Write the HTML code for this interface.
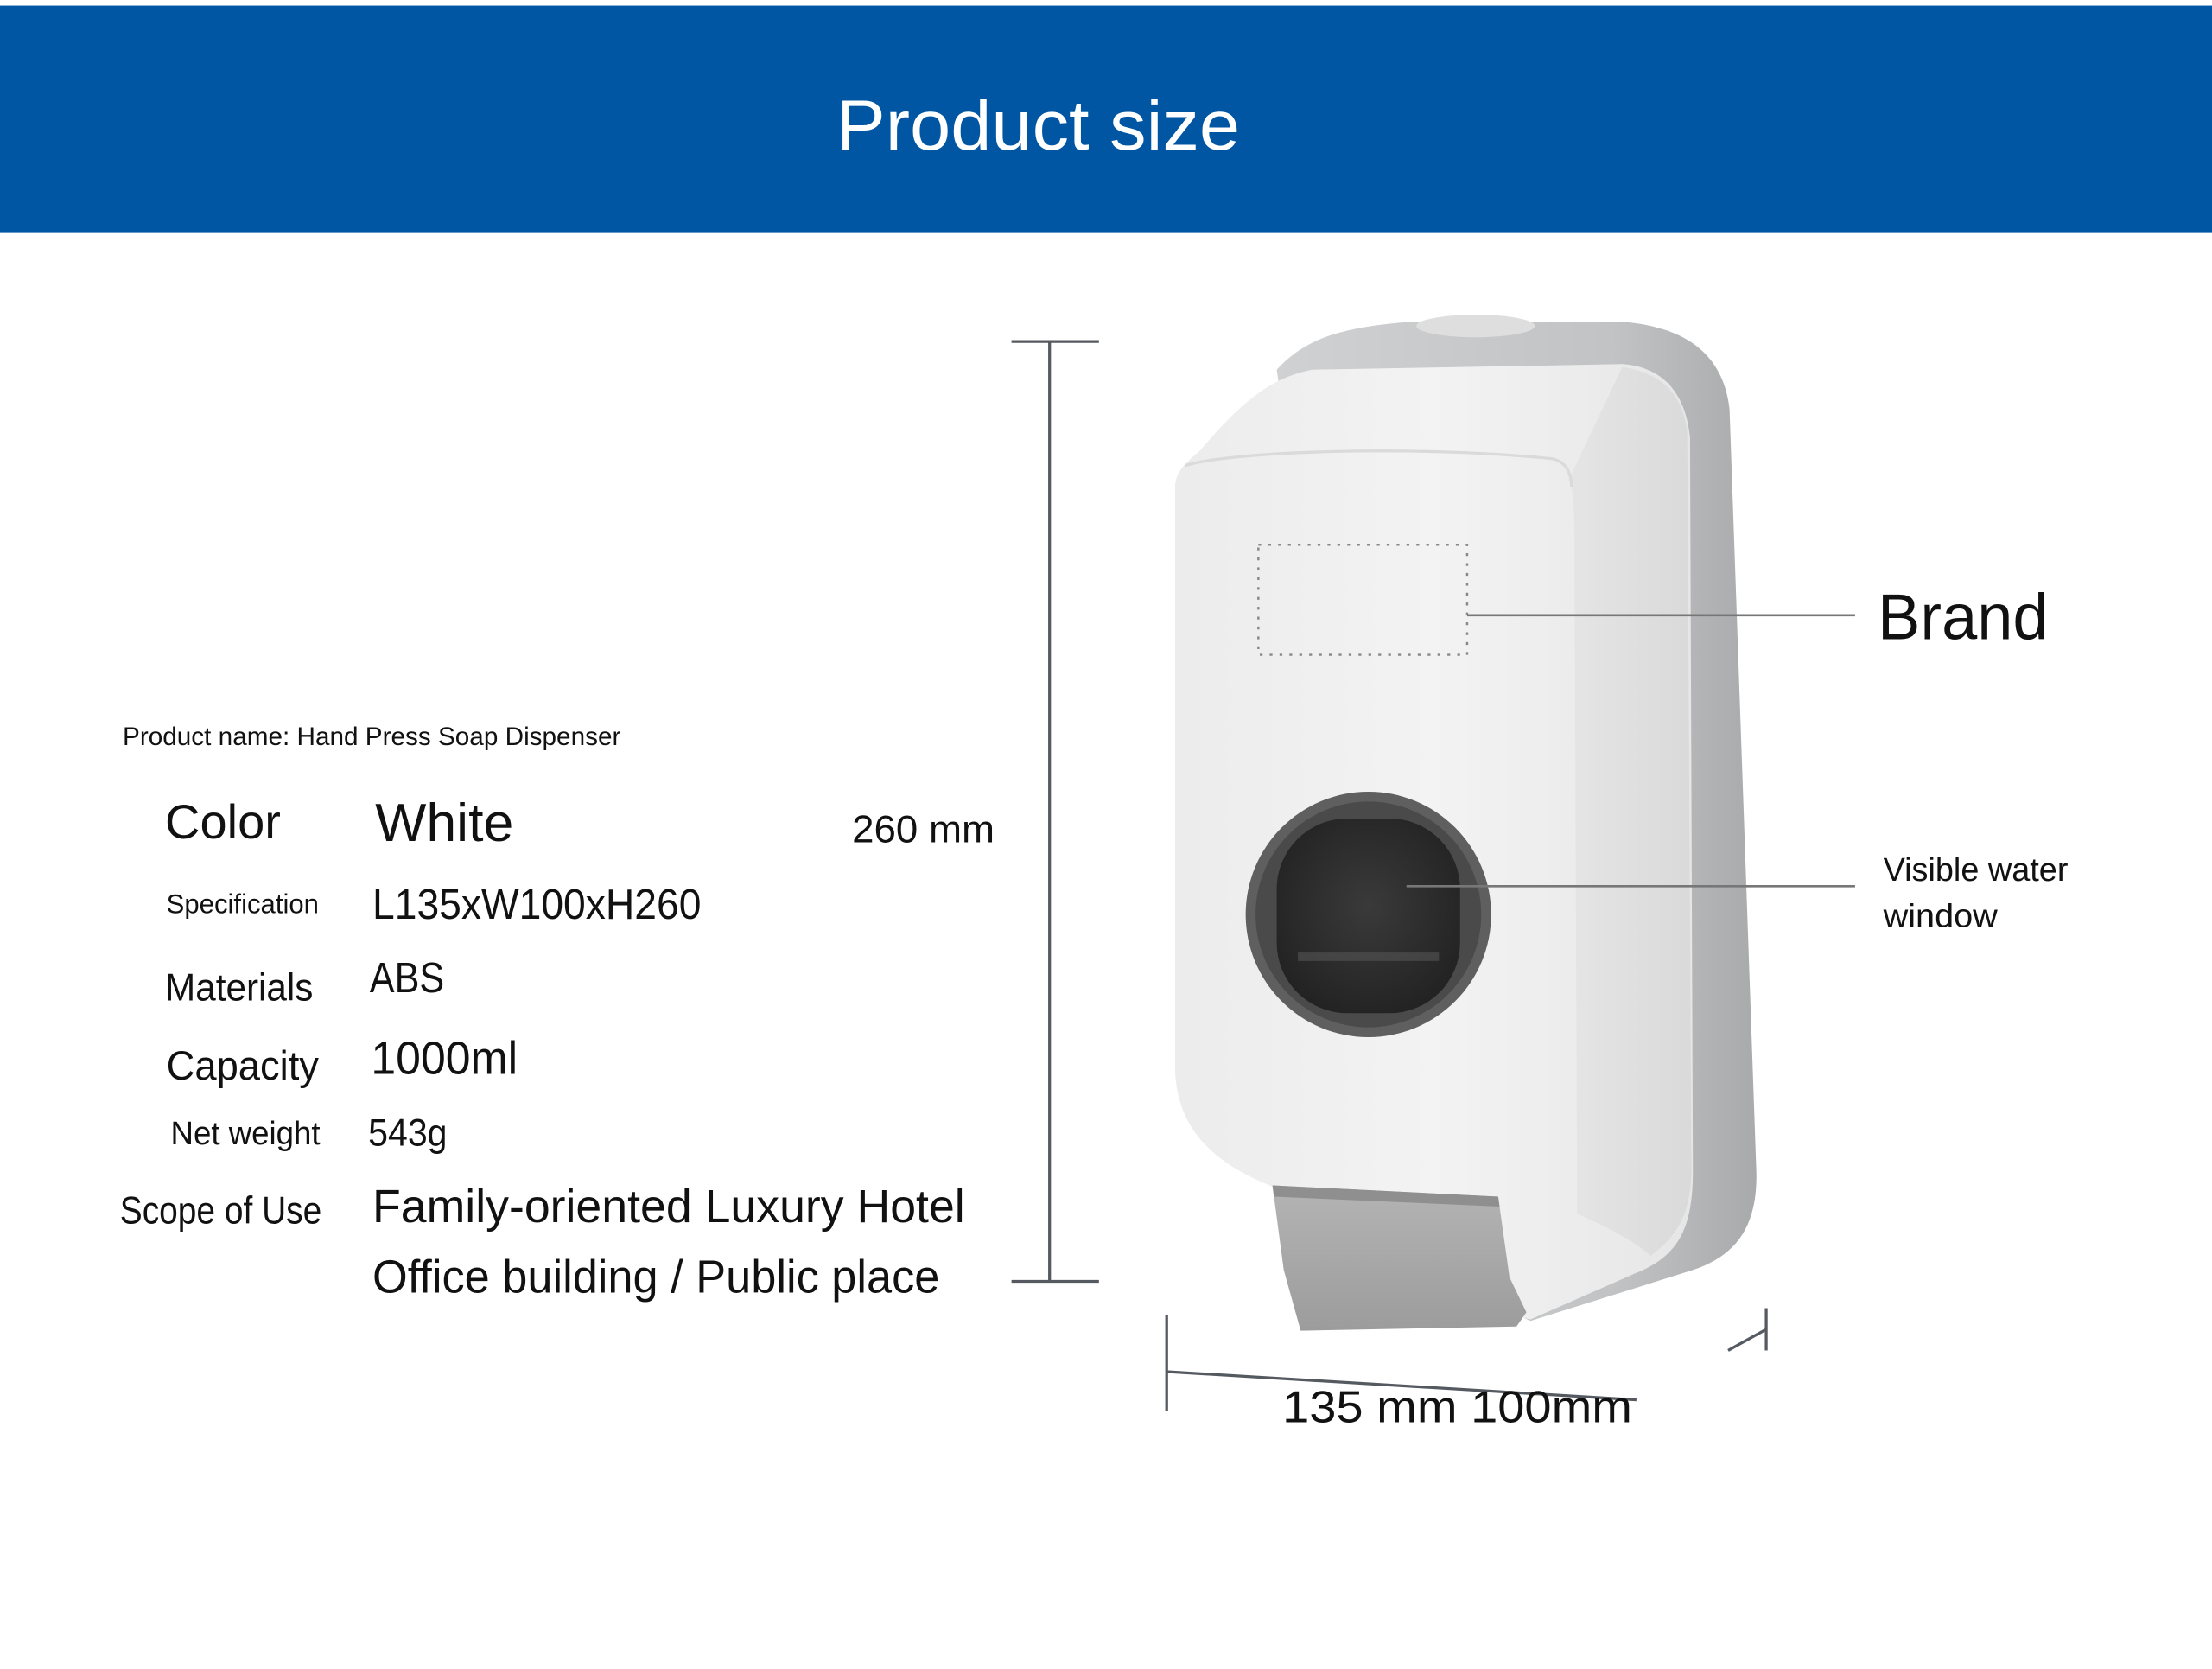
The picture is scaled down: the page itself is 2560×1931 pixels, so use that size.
<!DOCTYPE html>
<html><head><meta charset="utf-8"><style>
html,body{margin:0;padding:0;background:#fff;}
svg{display:block;}
text{font-family:"Liberation Sans",sans-serif;fill:#111;}
</style></head><body>
<svg width="2560" height="1931" viewBox="0 0 1568 1182.7" xmlns="http://www.w3.org/2000/svg">
<defs>
<linearGradient id="shell" x1="0" y1="0" x2="1" y2="0">
<stop offset="0" stop-color="#d0d1d2"/><stop offset="0.7" stop-color="#c2c3c4"/><stop offset="1" stop-color="#a9aaab"/>
</linearGradient>
<linearGradient id="face" x1="0" y1="0" x2="1" y2="0">
<stop offset="0" stop-color="#ececec"/><stop offset="0.5" stop-color="#f3f3f3"/><stop offset="1" stop-color="#e6e6e6"/>
</linearGradient>
<linearGradient id="side" x1="0" y1="0" x2="1" y2="0">
<stop offset="0" stop-color="#e2e2e2"/><stop offset="1" stop-color="#d4d4d4"/>
</linearGradient>
<linearGradient id="btn" x1="0" y1="0" x2="0" y2="1">
<stop offset="0" stop-color="#b4b4b4"/><stop offset="1" stop-color="#9c9c9c"/>
</linearGradient>
<radialGradient id="win" cx="0.5" cy="0.45" r="0.6">
<stop offset="0" stop-color="#3a3a3a"/><stop offset="1" stop-color="#222"/>
</radialGradient>
</defs>
<rect x="0" y="0" width="1568" height="1183" fill="#ffffff"/>
<rect x="0" y="4" width="1568" height="160.5" fill="#0056a3"/>
<text x="736" y="106" font-size="50" text-anchor="middle" style="fill:#fff" textLength="286" lengthAdjust="spacingAndGlyphs">Product size</text>

<!-- vertical dimension -->
<g stroke="#555a60" stroke-width="2">
<line x1="744" y1="242" x2="744" y2="908"/>
<line x1="717" y1="242" x2="779" y2="242"/>
<line x1="717" y1="908" x2="779" y2="908"/>
</g>
<text x="604" y="597" font-size="27" textLength="101" lengthAdjust="spacingAndGlyphs">260 mm</text>

<!-- dispenser shell -->
<path d="M905,262 C925,240 950,232 1000,228 L1150,228 C1200,232 1222,255 1226,290 L1245,830 C1246,870 1230,890 1200,900 L1085,936 L1000,900 Z" fill="url(#shell)"/>
<ellipse cx="1046" cy="231" rx="42" ry="8" fill="#dedede"/>
<!-- front face -->
<path d="M833,345 C833,335 840,328 850,320 C880,285 900,268 930,262 L1150,258 C1180,260 1195,280 1198,310 L1200,830 C1200,870 1190,890 1160,902 L1085,935 L1070,932 L1060,850 L905,842 C860,825 835,800 833,760 Z" fill="url(#face)"/>
<path d="M1112,340 C1115,345 1116,360 1116,380 L1118,860 C1140,870 1160,880 1170,890 C1190,875 1198,860 1199,830 L1196,305 C1192,280 1180,265 1150,260 Z" fill="url(#side)" opacity="0.7"/>
<path d="M840,330 C870,320 1000,315 1100,325 C1110,327 1114,335 1114,345" fill="none" stroke="#dadada" stroke-width="2"/>
<!-- dotted brand box -->
<rect x="892" y="386" width="148" height="78" fill="none" stroke="#888" stroke-width="1.5" stroke-dasharray="2,5"/>
<!-- window -->
<circle cx="970" cy="648" r="87" fill="#5f5f5f"/>
<circle cx="970" cy="648" r="80" fill="#4a4a4a"/>
<rect x="905" y="580" width="130" height="138" rx="50" fill="url(#win)"/>
<rect x="920" y="675" width="100" height="6" fill="#555" opacity="0.6"/>
<!-- push button -->
<path d="M902,840 L1062,848 L1070,905 L1082,930 L1075,940 L922,943 L910,900 Z" fill="url(#btn)"/>
<path d="M902,840 L1062,848 L1063,855 L903,848 Z" fill="#8f8f8f"/>

<!-- leader lines -->
<line x1="1040" y1="436" x2="1315" y2="436" stroke="#777" stroke-width="1.6"/>
<line x1="997" y1="628" x2="1315" y2="628" stroke="#777" stroke-width="1.6"/>
<text x="1331" y="453" font-size="46" textLength="121" lengthAdjust="spacingAndGlyphs">Brand</text>
<text x="1335" y="624" font-size="23" textLength="131" lengthAdjust="spacingAndGlyphs">Visible water</text>
<text x="1335" y="657" font-size="23" textLength="81" lengthAdjust="spacingAndGlyphs">window</text>

<!-- bottom dims -->
<g stroke="#555a60" stroke-width="2">
<line x1="827" y1="932" x2="827" y2="1000"/>
<line x1="827" y1="972" x2="1160" y2="992"/>
<line x1="1252" y1="927" x2="1252" y2="957"/>
<line x1="1225" y1="957" x2="1252" y2="942"/>
</g>
<text x="909" y="1008" font-size="32" textLength="248" lengthAdjust="spacingAndGlyphs">135 mm 100mm</text>

<!-- spec text -->
<text x="87" y="528" font-size="18" textLength="353" lengthAdjust="spacingAndGlyphs">Product name: Hand Press Soap Dispenser</text>
<text x="117" y="594" font-size="34" textLength="82" lengthAdjust="spacingAndGlyphs">Color</text>
<text x="266" y="596" font-size="38" textLength="98" lengthAdjust="spacingAndGlyphs">White</text>
<text x="118" y="647" font-size="19" textLength="108" lengthAdjust="spacingAndGlyphs">Specification</text>
<text x="264" y="651" font-size="30" textLength="233" lengthAdjust="spacingAndGlyphs">L135xW100xH260</text>
<text x="117" y="709" font-size="27" textLength="105" lengthAdjust="spacingAndGlyphs">Materials</text>
<text x="262" y="703" font-size="30" textLength="53" lengthAdjust="spacingAndGlyphs">ABS</text>
<text x="118" y="765" font-size="29" textLength="108" lengthAdjust="spacingAndGlyphs">Capacity</text>
<text x="263" y="761" font-size="33" textLength="104" lengthAdjust="spacingAndGlyphs">1000ml</text>
<text x="121" y="811" font-size="23" textLength="106" lengthAdjust="spacingAndGlyphs">Net weight</text>
<text x="261" y="812" font-size="27" textLength="56" lengthAdjust="spacingAndGlyphs">543g</text>
<text x="85" y="867" font-size="27" textLength="143" lengthAdjust="spacingAndGlyphs">Scope of Use</text>
<text x="264" y="866" font-size="33" textLength="420" lengthAdjust="spacingAndGlyphs">Family-oriented Luxury Hotel</text>
<text x="264" y="916" font-size="33" textLength="402" lengthAdjust="spacingAndGlyphs">Office building / Public place</text>
</svg>
</body></html>
